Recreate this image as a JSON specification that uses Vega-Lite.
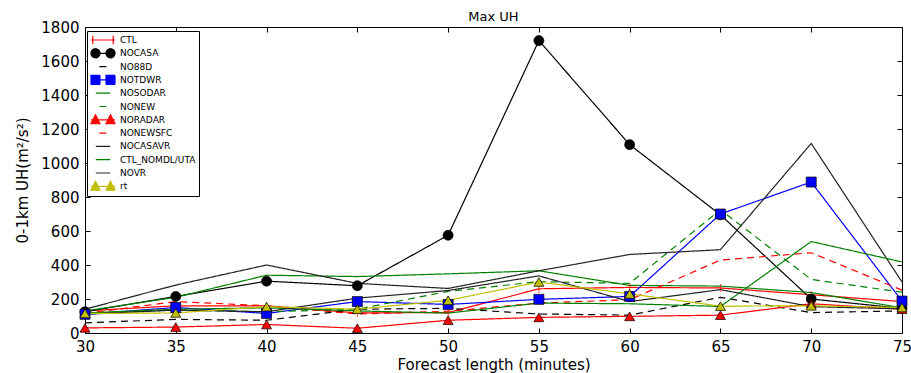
{
  "$schema": "https://vega.github.io/schema/vega-lite/v6.json",
  "width": 817,
  "height": 306,
  "autosize": {"type": "none"},
  "padding": {"left": 85, "top": 27, "right": 9, "bottom": 40},
  "background": "white",
  "title": {"text": "Max UH", "fontSize": 13, "fontWeight": "normal", "font": "DejaVu Sans", "offset": -4, "color": "black"},
  "config": {
    "view": {"stroke": "black", "strokeWidth": 1},
    "axis": {
      "grid": false, "domain": false, "tickColor": "black", "tickSize": -5, "tickWidth": 1,
      "labelFont": "DejaVu Sans", "labelFontSize": 15, "labelColor": "black",
      "titleFont": "DejaVu Sans", "titleFontSize": 15, "titleFontWeight": "normal", "titleColor": "black",
      "labelFlush": false, "labelOverlap": false
    }
  },
  "data": {"values": [
    {"series":"CTL","t":30,"v":130},{"series":"CTL","t":35,"v":160},{"series":"CTL","t":40,"v":160},{"series":"CTL","t":45,"v":118},{"series":"CTL","t":50,"v":120},{"series":"CTL","t":55,"v":260},{"series":"CTL","t":60,"v":268},{"series":"CTL","t":65,"v":265},{"series":"CTL","t":70,"v":225},{"series":"CTL","t":75,"v":185},
    {"series":"NOCASA","t":30,"v":125},{"series":"NOCASA","t":35,"v":215},{"series":"NOCASA","t":40,"v":305},{"series":"NOCASA","t":45,"v":278},{"series":"NOCASA","t":50,"v":575},{"series":"NOCASA","t":55,"v":1720},{"series":"NOCASA","t":60,"v":1108},{"series":"NOCASA","t":65,"v":695},{"series":"NOCASA","t":70,"v":200},{"series":"NOCASA","t":75,"v":145},
    {"series":"NO88D","t":30,"v":60},{"series":"NO88D","t":35,"v":80},{"series":"NO88D","t":40,"v":75},{"series":"NO88D","t":45,"v":140},{"series":"NO88D","t":50,"v":145},{"series":"NO88D","t":55,"v":112},{"series":"NO88D","t":60,"v":105},{"series":"NO88D","t":65,"v":210},{"series":"NO88D","t":70,"v":120},{"series":"NO88D","t":75,"v":130},
    {"series":"NOTDWR","t":30,"v":110},{"series":"NOTDWR","t":35,"v":150},{"series":"NOTDWR","t":40,"v":115},{"series":"NOTDWR","t":45,"v":185},{"series":"NOTDWR","t":50,"v":168},{"series":"NOTDWR","t":55,"v":198},{"series":"NOTDWR","t":60,"v":215},{"series":"NOTDWR","t":65,"v":700},{"series":"NOTDWR","t":70,"v":888},{"series":"NOTDWR","t":75,"v":188},
    {"series":"NOSODAR","t":30,"v":130},{"series":"NOSODAR","t":35,"v":210},{"series":"NOSODAR","t":40,"v":340},{"series":"NOSODAR","t":45,"v":332},{"series":"NOSODAR","t":50,"v":348},{"series":"NOSODAR","t":55,"v":366},{"series":"NOSODAR","t":60,"v":280},{"series":"NOSODAR","t":65,"v":276},{"series":"NOSODAR","t":70,"v":238},{"series":"NOSODAR","t":75,"v":148},
    {"series":"NONEW","t":30,"v":115},{"series":"NONEW","t":35,"v":135},{"series":"NONEW","t":40,"v":125},{"series":"NONEW","t":45,"v":140},{"series":"NONEW","t":50,"v":245},{"series":"NONEW","t":55,"v":302},{"series":"NONEW","t":60,"v":292},{"series":"NONEW","t":65,"v":725},{"series":"NONEW","t":70,"v":315},{"series":"NONEW","t":75,"v":240},
    {"series":"NORADAR","t":30,"v":30},{"series":"NORADAR","t":35,"v":35},{"series":"NORADAR","t":40,"v":50},{"series":"NORADAR","t":45,"v":28},{"series":"NORADAR","t":50,"v":75},{"series":"NORADAR","t":55,"v":92},{"series":"NORADAR","t":60,"v":98},{"series":"NORADAR","t":65,"v":105},{"series":"NORADAR","t":70,"v":172},{"series":"NORADAR","t":75,"v":140},
    {"series":"NONEWSFC","t":30,"v":115},{"series":"NONEWSFC","t":35,"v":185},{"series":"NONEWSFC","t":40,"v":160},{"series":"NONEWSFC","t":45,"v":112},{"series":"NONEWSFC","t":50,"v":128},{"series":"NONEWSFC","t":55,"v":176},{"series":"NONEWSFC","t":60,"v":196},{"series":"NONEWSFC","t":65,"v":429},{"series":"NONEWSFC","t":70,"v":472},{"series":"NONEWSFC","t":75,"v":252},
    {"series":"NOCASAVR","t":30,"v":140},{"series":"NOCASAVR","t":35,"v":282},{"series":"NOCASAVR","t":40,"v":400},{"series":"NOCASAVR","t":45,"v":292},{"series":"NOCASAVR","t":50,"v":262},{"series":"NOCASAVR","t":55,"v":366},{"series":"NOCASAVR","t":60,"v":462},{"series":"NOCASAVR","t":65,"v":490},{"series":"NOCASAVR","t":70,"v":1115},{"series":"NOCASAVR","t":75,"v":300},
    {"series":"CTL_NOMDL/UTA","t":30,"v":118},{"series":"CTL_NOMDL/UTA","t":35,"v":140},{"series":"CTL_NOMDL/UTA","t":40,"v":148},{"series":"CTL_NOMDL/UTA","t":45,"v":130},{"series":"CTL_NOMDL/UTA","t":50,"v":117},{"series":"CTL_NOMDL/UTA","t":55,"v":176},{"series":"CTL_NOMDL/UTA","t":60,"v":172},{"series":"CTL_NOMDL/UTA","t":65,"v":156},{"series":"CTL_NOMDL/UTA","t":70,"v":538},{"series":"CTL_NOMDL/UTA","t":75,"v":418},
    {"series":"NOVR","t":30,"v":110},{"series":"NOVR","t":35,"v":135},{"series":"NOVR","t":40,"v":125},{"series":"NOVR","t":45,"v":205},{"series":"NOVR","t":50,"v":250},{"series":"NOVR","t":55,"v":336},{"series":"NOVR","t":60,"v":185},{"series":"NOVR","t":65,"v":255},{"series":"NOVR","t":70,"v":155},{"series":"NOVR","t":75,"v":142},
    {"series":"rt","t":30,"v":115},{"series":"rt","t":35,"v":118},{"series":"rt","t":40,"v":155},{"series":"rt","t":45,"v":140},{"series":"rt","t":50,"v":192},{"series":"rt","t":55,"v":300},{"series":"rt","t":60,"v":230},{"series":"rt","t":65,"v":158},{"series":"rt","t":70,"v":160},{"series":"rt","t":75,"v":150}
  ]},
  "resolve": {"axis": {"x": "independent", "y": "independent"}},
  "layer": [
    {
      "mark": {"type": "line", "strokeWidth": 1.2},
      "encoding": {
        "x": {"field": "t", "type": "quantitative", "scale": {"domain": [30, 75], "nice": false, "zero": false},
              "axis": {"values": [30,35,40,45,50,55,60,65,70,75], "title": "Forecast length (minutes)", "labelPadding": 11, "titlePadding": 3}},
        "y": {"field": "v", "type": "quantitative", "scale": {"domain": [0, 1800], "nice": false},
              "axis": {"values": [0,200,400,600,800,1000,1200,1400,1600,1800], "format": "d", "title": "0-1km UH(m²/s²)", "labelPadding": 11, "titlePadding": 10}},
        "color": {"field": "series", "type": "nominal",
          "scale": {"domain": ["CTL","NOCASA","NO88D","NOTDWR","NOSODAR","NONEW","NORADAR","NONEWSFC","NOCASAVR","CTL_NOMDL/UTA","NOVR","rt"],
                    "range": ["#ff0000","#000000","#000000","#0000ff","#008000","#008000","#ff0000","#ff0000","#222222","#008000","#222222","#bfbf00"]},
          "legend": {
            "title": null, "orient": "none", "legendX": 2, "legendY": 4,
            "strokeColor": "black", "fillColor": "white", "padding": 3, "cornerRadius": 0,
            "labelFont": "DejaVu Sans", "labelFontSize": 9, "labelColor": "black", "labelOffset": 4,
            "symbolSize": 576, "symbolStrokeWidth": 1.2, "clipHeight": 12, "rowPadding": 1.3,
            "symbolType": "stroke",
            "encode": {"symbols": {"update": {
              "shape": {"signal": "datum.value==='NOCASA' ? 'M-1,0H1M-0.25,0A0.375,0.375 0 1,0 -1,0A0.375,0.375 0 1,0 -0.25,0ZM1,0A0.375,0.375 0 1,0 0.25,0A0.375,0.375 0 1,0 1,0Z' : datum.value==='NOTDWR' ? 'M-1,0H1M-1,-0.375H-0.25V0.375H-1ZM0.25,-0.375H1V0.375H0.25Z' : (datum.value==='NORADAR' || datum.value==='rt') ? 'M-1,0H1M-1,0.33L-0.625,-0.42L-0.25,0.33ZM0.25,0.33L0.625,-0.42L1,0.33Z' : datum.value==='CTL' ? 'M-1,0H1M-0.85,-0.35V0.35M0.85,-0.35V0.35' : (datum.value==='NO88D' || datum.value==='NONEW' || datum.value==='NONEWSFC') ? 'M-0.3,0H0.3' : 'M-0.6,0H0.6'"},
              "fill": {"signal": "(datum.value==='NOCASA' || datum.value==='NOTDWR' || datum.value==='NORADAR' || datum.value==='rt') ? scale('color', datum.value) : 'transparent'"},
              "opacity": {"value": 1}
            }}}
          }},
        "strokeDash": {"field": "series", "type": "nominal",
          "scale": {"domain": ["CTL","NOCASA","NO88D","NOTDWR","NOSODAR","NONEW","NORADAR","NONEWSFC","NOCASAVR","CTL_NOMDL/UTA","NOVR","rt"],
                    "range": [[1,0],[1,0],[7,5],[1,0],[1,0],[7,5],[1,0],[7,5],[1,0],[1,0],[1,0],[1,0]]},
          "legend": null}
      }
    },
    {
      "transform": [{"filter": {"field": "series", "oneOf": ["CTL","NOCASA","NOTDWR","NORADAR","rt"]}}],
      "mark": {"type": "point", "filled": true, "size": 100, "strokeWidth": 0.7, "opacity": 1},
      "encoding": {
        "x": {"field": "t", "type": "quantitative", "axis": {"orient": "top", "values": [30,35,40,45,50,55,60,65,70,75], "labels": false, "title": null}},
        "y": {"field": "v", "type": "quantitative", "axis": {"orient": "right", "values": [0,200,400,600,800,1000,1200,1400,1600,1800], "labels": false, "title": null}},
        "color": {"field": "series", "type": "nominal", "legend": null},
        "shape": {"field": "series", "type": "nominal",
          "scale": {"domain": ["CTL","NOCASA","NOTDWR","NORADAR","rt"], "range": ["M0,-0.8V0.8","circle","square","triangle-up","triangle-up"]},
          "legend": null},
        "stroke": {"condition": {"test": "datum.series === 'CTL'", "value": "#ff0000"}, "value": "black"}
      }
    }
  ]
}
